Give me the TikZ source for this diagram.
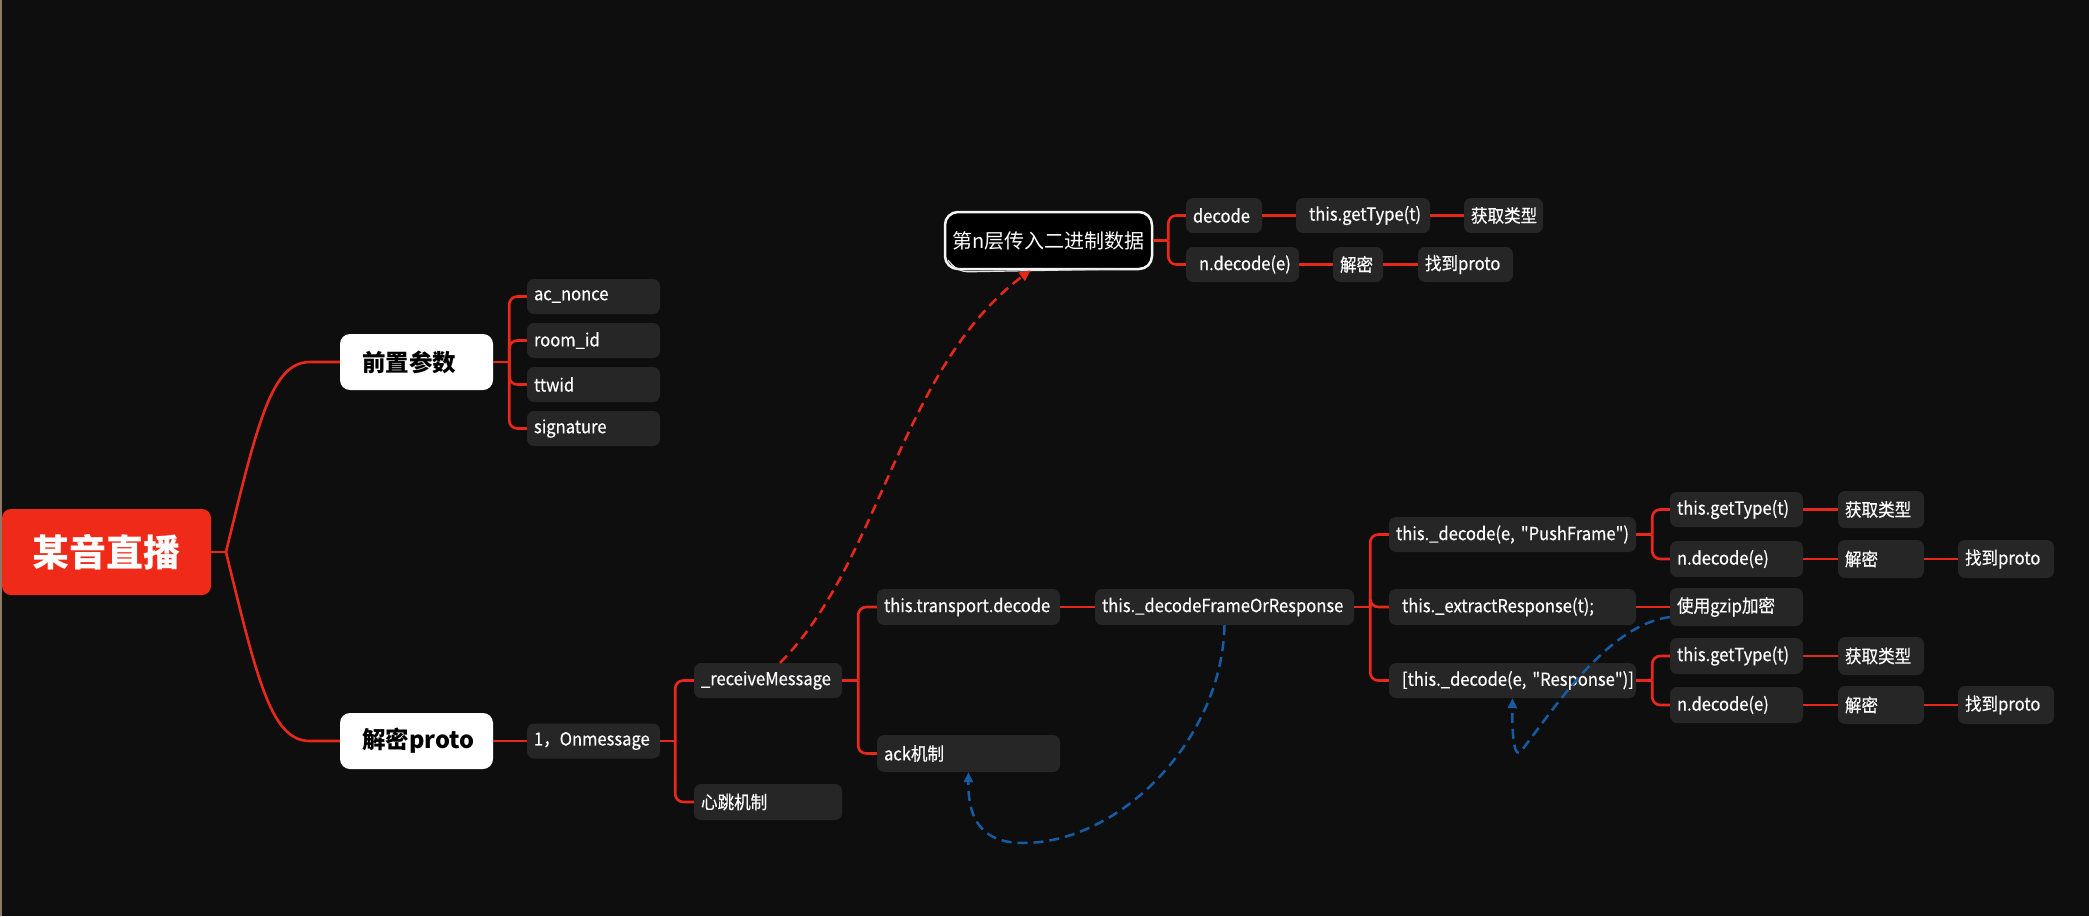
\documentclass[tikz,border=0pt]{standalone}
\usepackage{fontspec}
\setmainfont{Noto Sans CJK SC}[Ligatures=TeXOff]
\newfontfamily\leaffam{Noto Sans CJK SC}[FakeStretch=0.92,FakeBold=0.4,Ligatures=TeXOff]
\usetikzlibrary{arrows.meta}
\definecolor{bgc}{RGB}{14,14,14}
\definecolor{boxc}{RGB}{38,38,38}
\definecolor{redl}{RGB}{232,40,26}
\definecolor{rootc}{RGB}{240,42,24}
\definecolor{bluel}{RGB}{22,92,162}
\definecolor{stripc}{RGB}{140,122,100}
\newcommand\leaffont{\leaffam\fontsize{18}{22}\selectfont}
\tikzset{
  bx/.style={fill=boxc, rounded corners=7pt, inner xsep=7pt, inner ysep=0pt, align=left, text=white, font=\leaffont, minimum height=35pt},
  wbx/.style={fill=white, rounded corners=10pt, inner xsep=22pt, inner ysep=0pt, align=left, text=black, font=\fontsize{23.5}{27}\selectfont\bfseries, minimum height=56pt, text width=109pt},
  rl/.style={draw=redl, line width=2.6pt},
  rb/.style={rl, rounded corners=8pt},
  rdash/.style={draw=redl, line width=2.5pt, dash pattern=on 10pt off 6pt, -{Triangle[length=11pt,width=10pt]}},
  bdash/.style={draw=bluel, line width=2.5pt, dash pattern=on 10pt off 6pt, -{Triangle[length=10pt,width=9pt]}}
}
\begin{document}
\begin{tikzpicture}[x=1pt,y=-1pt]
\useasboundingbox[fill=bgc] (0,0) rectangle (2089,916);
\fill[stripc] (0,0) rectangle (2,916);

% root and first level
\node[fill=rootc, rounded corners=9pt, minimum width=209pt, minimum height=86pt, inner sep=0pt, text=white, font=\fontsize{37}{42}\selectfont\bfseries] (root) at (106.5,552) {某音直播};
\node[wbx] (pre) at (416.5,362) {前置参数};
\node[wbx] (dec) at (416.5,741) {解密proto};

% 前置参数 leaves
\node[bx, text width=119pt] (ac) at (593.5,296.5) {ac\_nonce};
\node[bx, text width=119pt] (room) at (593.5,340.5) {room\_id};
\node[bx, text width=119pt] (ttwid) at (593.5,384.5) {ttwid};
\node[bx, text width=119pt] (sig) at (593.5,428.5) {signature};

% 解密proto branch
\node[bx, text width=119pt] (onm) at (593.5,741) {1，Onmessage};
\node[bx, text width=134pt] (recv) at (768,680.5) {\_receiveMessage};
\node[bx, text width=134pt, minimum height=36pt] (heart) at (768,802) {心跳机制};
\node[bx, text width=169pt, minimum height=36pt] (trans) at (968.5,607) {\mbox{this.transport.decode}};
\node[bx, text width=169pt, minimum height=37pt] (ack) at (968.5,753.5) {ack机制};
\node[bx, text width=245pt, minimum height=36pt] (dfr) at (1224.5,607) {\mbox{this.\_decodeFrameOrResponse}};

\node[bx, text width=233pt] (push) at (1512.5,534.5) {\mbox{this.\_decode(e, "PushFrame")}};
\node[bx, text width=233pt, minimum height=36pt] (extr) at (1512.5,607) {\mbox{\ this.\_extractResponse(t);}};
\node[bx, text width=233pt] (resp) at (1512.5,680.5) {\mbox{\ [this.\_decode(e, "Response")]}};

\node[bx, text width=119pt] (gt1) at (1736.5,509.5) {\mbox{this.getType(t)}};
\node[bx, text width=119pt, minimum height=36pt] (nd1) at (1736.5,559) {n.decode(e)};
\node[bx, text width=72pt, minimum height=37pt] (hq1) at (1881,509.5) {获取类型};
\node[bx, text width=72pt, minimum height=38pt] (jm1) at (1881,559) {解密};
\node[bx, text width=82pt, minimum height=38pt] (zd1) at (2006,559) {找到proto};

\node[bx, text width=119pt, minimum height=38pt] (gz) at (1736.5,607) {使用gzip加密};

\node[bx, text width=119pt, minimum height=36pt] (gt2) at (1736.5,656) {\mbox{this.getType(t)}};
\node[bx, text width=119pt, minimum height=36pt] (nd2) at (1736.5,705) {n.decode(e)};
\node[bx, text width=72pt, minimum height=38pt] (hq2) at (1881,656) {获取类型};
\node[bx, text width=72pt, minimum height=38pt] (jm2) at (1881,705) {解密};
\node[bx, text width=82pt, minimum height=38pt] (zd2) at (2006,705) {找到proto};

% top group
\node[fill=black, draw=white!92!gray, line width=2.5pt, rounded corners=13pt, minimum width=207pt, minimum height=57pt, inner sep=0pt, text=white, font=\fontsize{20}{24}\selectfont] (layer) at (1048.5,240.5) {第n层传入二进制数据};
\draw[white!80!gray, line width=1.2pt, rounded corners=10pt] (948,260) -- (958,272) -- (1120,269);
\node[bx, text width=62pt] (tdec) at (1224,215.5) {decode};
\node[bx, text width=120pt] (tgt) at (1363,215.5) {\mbox{\ this.getType(t)}};
\node[bx, text width=65pt] (thq) at (1503.5,215.5) {获取类型};
\node[bx, text width=99pt] (tnd) at (1242.5,264.5) {\mbox{\ n.decode(e)}};
\node[bx, text width=36pt] (tjm) at (1358,264.5) {解密};
\node[bx, text width=81pt] (tzd) at (1465.5,264.5) {\mbox{找到proto}};

% connectors: root
\coordinate (rj) at (226,552);
\draw[rl] (root.east) -- (rj);
\draw[rl] (rj) .. controls (258,420) and (272,362) .. (310,362) -- (pre.west);
\draw[rl] (rj) .. controls (258,684) and (272,741) .. (310,741) -- (dec.west);

% 前置参数 bracket
\draw[rl] (pre.east) -- ++(16,0) coordinate (j1);
\foreach \c in {ac,room,ttwid,sig} \draw[rb] (j1) |- (\c.west);

% 解密proto chain
\draw[rl] (dec.east) -- (dec.east -| onm.west);
\draw[rl] (onm.east) -- ++(15,0) coordinate (j2);
\foreach \c in {recv,heart} \draw[rb] (j2) |- (\c.west);
\draw[rl] (recv.east) -- ++(16,0) coordinate (j3);
\foreach \c in {trans,ack} \draw[rb] (j3) |- (\c.west);
\draw[rl] (trans.east) -- (trans.east -| dfr.west);
\draw[rl] (dfr.east) -- ++(16,0) coordinate (j4);
\foreach \c in {push,extr,resp} \draw[rb] (j4) |- (\c.west);
\draw[rl] (push.east) -- ++(16,0) coordinate (j5);
\foreach \c in {gt1,nd1} \draw[rb] (j5) |- (\c.west);
\draw[rl] (gt1.east) -- (gt1.east -| hq1.west);
\draw[rl] (nd1.east) -- (nd1.east -| jm1.west);
\draw[rl] (jm1.east) -- (jm1.east -| zd1.west);
\draw[rl] (extr.east) -- (extr.east -| gz.west);
\draw[rl] (resp.east) -- ++(16,0) coordinate (j6);
\foreach \c in {gt2,nd2} \draw[rb] (j6) |- (\c.west);
\draw[rl] (gt2.east) -- (gt2.east -| hq2.west);
\draw[rl] (nd2.east) -- (nd2.east -| jm2.west);
\draw[rl] (jm2.east) -- (jm2.east -| zd2.west);

% top group connectors
\draw[rl] (layer.east) -- ++(15,0) coordinate (j7);
\foreach \c in {tdec,tnd} \draw[rb] (j7) |- (\c.west);
\draw[rl] (tdec.east) -- (tdec.east -| tgt.west);
\draw[rl] (tgt.east) -- (tgt.east -| thq.west);
\draw[rl] (tnd.east) -- (tnd.east -| tjm.west);
\draw[rl] (tjm.east) -- (tjm.east -| tzd.west);

% dashed relations
\draw[rdash] ([xshift=12pt]recv.north) .. controls (880,563) and (900,368) .. ([xshift=-18pt]layer.south);
\draw[bdash] (dfr.south) .. controls (1222,740) and (1120,843) .. (1023,843) .. controls (975,843) and (968,810) .. (ack.south);
\draw[bdash] ([yshift=-10pt]gz.west) .. controls (1610,625) and (1560,700) .. (1522,750) .. controls (1514,762) and (1512,735) .. (resp.south);
\end{tikzpicture}
\end{document}
